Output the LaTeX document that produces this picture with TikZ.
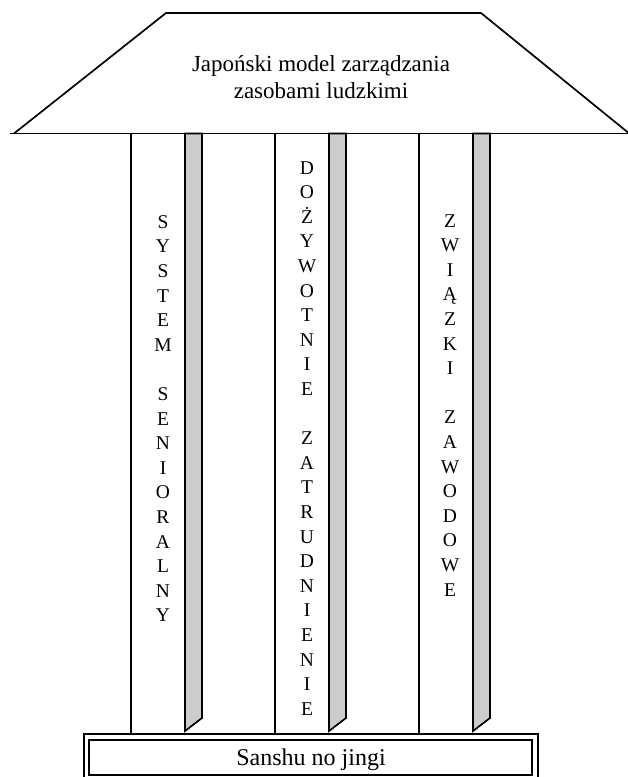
\documentclass[tikz,border=0pt]{standalone}
\usepackage{fontspec}
\setmainfont{Liberation Serif}
\begin{document}
\begin{tikzpicture}[x=1pt,y=-1pt,line width=1.7pt,
  strip/.style={fill=gray!40,draw=black,line join=miter},
  colletters/.style={anchor=north,align=center,inner sep=0pt,font=\fontsize{19.5}{24.6}\selectfont},
  titletext/.style={anchor=north,align=center,inner sep=0pt,font=\fontsize{23}{27}\selectfont},
  basetext/.style={anchor=base,inner sep=0pt,font=\fontsize{24}{26}\selectfont}]
\useasboundingbox (0,0) rectangle (628,777);
% roof
\draw (10,133.5) -- (628,133.5);
\draw[line join=miter] (14,133.5) -- (166,13) -- (481,13) -- (628,132.5);
\node[titletext] (title) at (321,55) {Japoński model zarządzania\\zasobami ludzkimi};
% pillars
\foreach \L/\n in {131/p1,275/p2,419/p3}{
  \coordinate (\n-top) at (\L,133.5);
  \coordinate (\n-bot) at (\L,734);
  \draw (\n-top) -- (\n-bot);
  \draw[strip] (\L+54,133.5) -- (\L+71,133.5) -- (\L+71,718) -- (\L+54,731) -- cycle;
}
\node[colletters] (c1) at (163,214.5) {S\\Y\\S\\T\\E\\M\\~\\S\\E\\N\\I\\O\\R\\A\\L\\N\\Y};
\node[colletters] (c2) at (307,160.5) {D\\O\\Ż\\Y\\W\\O\\T\\N\\I\\E\\~\\Z\\A\\T\\R\\U\\D\\N\\I\\E\\N\\I\\E};
\node[colletters] (c3) at (450,213.5) {Z\\W\\I\\Ą\\Z\\K\\I\\~\\Z\\A\\W\\O\\D\\O\\W\\E};
% base
\draw (84,734) rectangle (538,790);
\draw (89,740) rectangle (532,775);
\node[basetext] (base) at (311,765) {Sanshu no jingi};
\end{tikzpicture}
\end{document}
